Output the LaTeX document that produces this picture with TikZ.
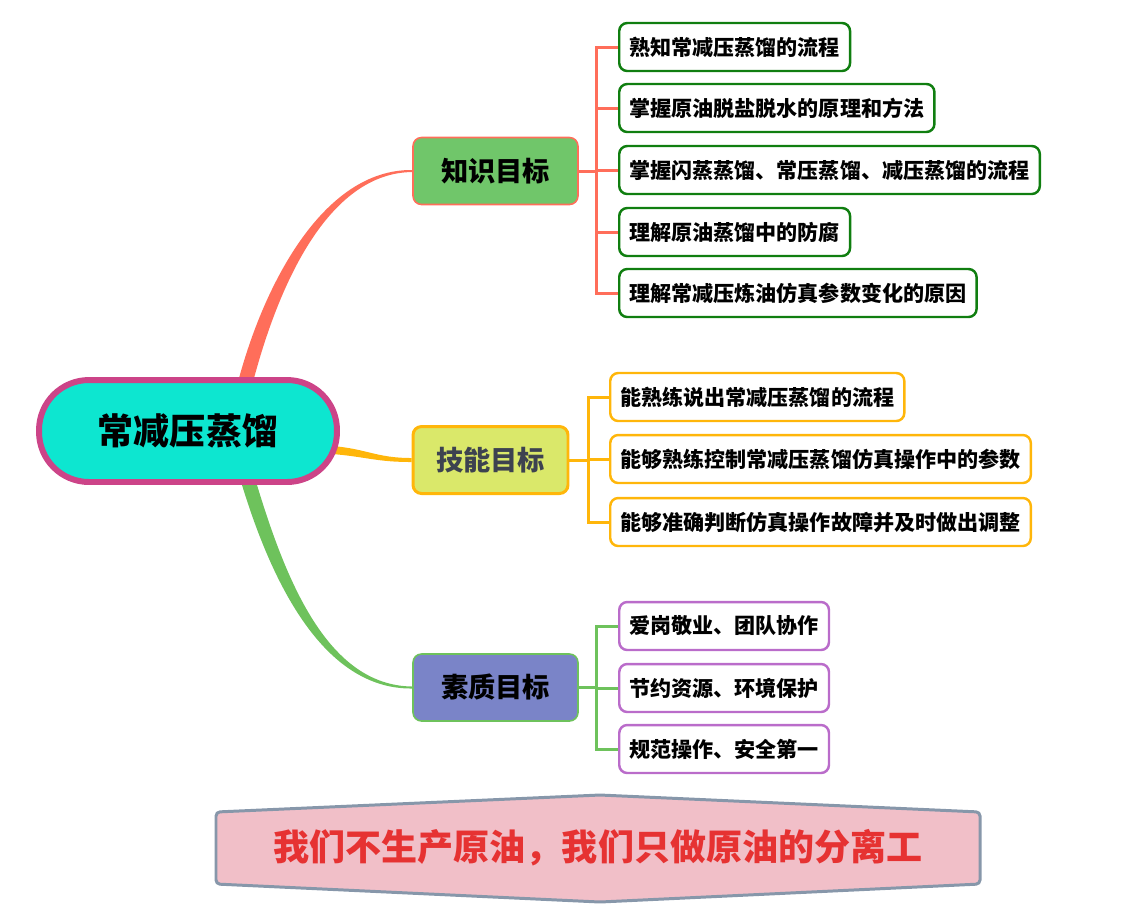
\documentclass[tikz,border=0pt]{standalone}
\usepackage{fontspec}
\setmainfont{Noto Sans CJK SC}
\usepackage{xcolor}
\usetikzlibrary{backgrounds}

\definecolor{roottea}{HTML}{0DE6D0}
\definecolor{rootpink}{HTML}{CC4488}
\definecolor{knfill}{HTML}{70C66A}
\definecolor{knred}{HTML}{FF6E5A}
\definecolor{skfill}{HTML}{DAE86A}
\definecolor{skorange}{HTML}{FFB60A}
\definecolor{sktext}{HTML}{3D4250}
\definecolor{qufill}{HTML}{7A84C8}
\definecolor{qugreen}{HTML}{6EC25C}
\definecolor{leafgreen}{HTML}{107E10}
\definecolor{leafpurple}{HTML}{BA6CCA}
\definecolor{bannerfill}{HTML}{F1BFC8}
\definecolor{bannerline}{HTML}{8797AA}
\definecolor{mottored}{HTML}{E63232}

\begin{document}
\begin{tikzpicture}[
  x=0.02cm, y=-0.02cm,
  root/.style={draw=rootpink, fill=roottea, line width=3.4pt, rounded corners=1.0cm,
    minimum width=5.96cm, minimum height=2.04cm, font=\fontsize{20.5}{24}\selectfont\bfseries},
  branch/.style={draw, rounded corners=0.17cm, minimum width=3.3cm, minimum height=1.34cm,
    font=\fontsize{15.5}{18}\selectfont\bfseries},
  leaf/.style={draw, fill=white, rounded corners=0.16cm, line width=1.4pt, anchor=west,
    minimum height=0.96cm, inner xsep=0.2cm, font=\fontsize{12}{14}\selectfont\bfseries},
  knleaf/.style={leaf, draw=leafgreen},
  skleaf/.style={leaf, draw=skorange},
  quleaf/.style={leaf, draw=leafpurple},
  bracket/.style={line width=1.7pt},
]
\useasboundingbox (0,0) rectangle (1128,921);

% root and the three goals
\node[root] (root) at (188,431) {常减压蒸馏};
\node[branch, fill=knfill, draw=knred, line width=0.9pt] (kn) at (495.5,171) {知识目标};
\node[branch, fill=skfill, draw=skorange, line width=1.7pt, text=sktext, minimum width=3.1cm] (sk) at (490.5,460) {技能目标};
\node[branch, fill=qufill, draw=qugreen, line width=0.9pt] (qu) at (495.5,687.5) {素质目标};

% knowledge
\node[knleaf] (k1) at (618,47)  {熟知常减压蒸馏的流程};
\node[knleaf] (k2) at (618,108) {掌握原油脱盐脱水的原理和方法};
\node[knleaf] (k3) at (618,170) {掌握闪蒸蒸馏、常压蒸馏、减压蒸馏的流程};
\node[knleaf] (k4) at (618,232) {理解原油蒸馏中的防腐};
\node[knleaf] (k5) at (618,293) {理解常减压炼油仿真参数变化的原因};

% skills
\node[skleaf] (s1) at (609,397) {能熟练说出常减压蒸馏的流程};
\node[skleaf] (s2) at (609,459) {能够熟练控制常减压蒸馏仿真操作中的参数};
\node[skleaf] (s3) at (609,522) {能够准确判断仿真操作故障并及时做出调整};

% qualities
\node[quleaf] (q1) at (618,626) {爱岗敬业、团队协作};
\node[quleaf] (q2) at (618,688) {节约资源、环境保护};
\node[quleaf] (q3) at (618,749) {规范操作、安全第一};

\foreach \i in {1,...,5}
  \draw[bracket, knred] (kn.east) -- ++(18,0) |- (k\i.west);
\foreach \i in {1,...,3}
  \draw[bracket, skorange] (sk.east) -- ++(19,0) |- (s\i.west);
\foreach \i in {1,...,3}
  \draw[bracket, qugreen] (qu.east) -- ++(18,0) |- (q\i.west);

% tapered branches
\begin{pgfonlayer}{background}
\fill[knred] ([xshift=1.0cm,yshift=-0.1cm]root.north) .. controls +(25,-95) and +(-90,-1) .. ([yshift=0.02cm]kn.west)
  -- ([yshift=-0.02cm]kn.west) .. controls +(-85,1) and +(25,-95) .. ([xshift=1.3cm,yshift=-0.1cm]root.north) -- cycle;
\fill[skorange] ([xshift=-0.15cm,yshift=-0.3cm]root.east) .. controls +(35,3) and +(-35,0) .. ([yshift=0.04cm]sk.west)
  -- ([yshift=-0.04cm]sk.west) .. controls +(-35,0) and +(35,3) .. ([xshift=-0.15cm,yshift=-0.46cm]root.east) -- cycle;
\fill[qugreen] ([xshift=1.05cm,yshift=0.1cm]root.south) .. controls +(30,100) and +(-90,1) .. ([yshift=-0.02cm]qu.west)
  -- ([yshift=0.02cm]qu.west) .. controls +(-85,-1) and +(30,100) .. ([xshift=1.35cm,yshift=0.1cm]root.south) -- cycle;
\end{pgfonlayer}

% motto
\draw[fill=bannerfill, draw=bannerline, line width=1.7pt, rounded corners=0.08cm]
  (216,812) -- (600,795) -- (980,812) -- (980,884) -- (600,902) -- (216,884) -- cycle;
\node[text=mottored, font=\fontsize{20.5}{24}\selectfont\bfseries] (motto) at (598,848) {我们不生产原油，我们只做原油的分离工};
\end{tikzpicture}
\end{document}
